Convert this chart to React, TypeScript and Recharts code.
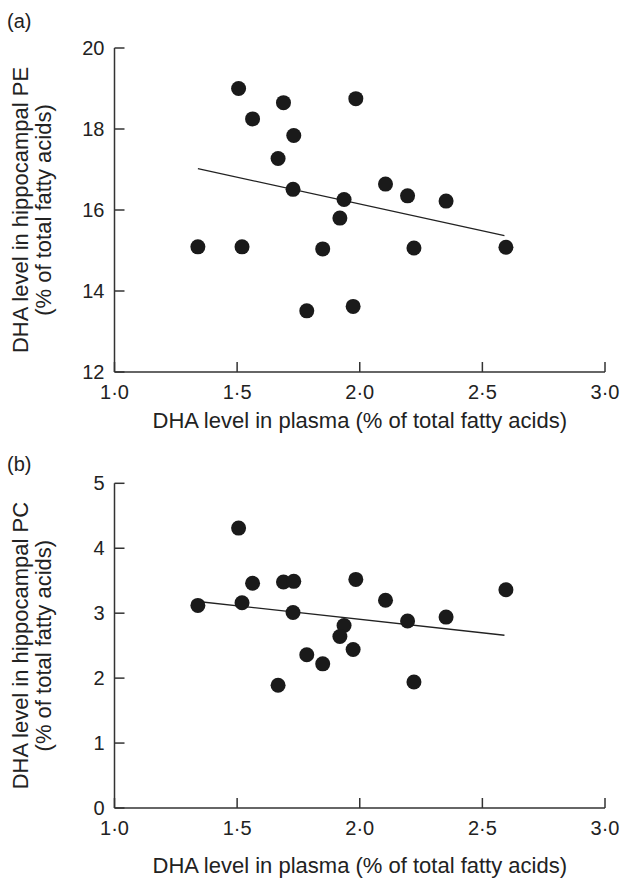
import React from 'react';
import { ScatterChart, Scatter, XAxis, YAxis } from 'recharts';

// Plasma DHA (% of total fatty acids), one value per animal
const plasmaDHA = [1.506, 1.689, 1.984, 1.563, 1.731, 1.667, 1.728, 2.105, 2.195, 2.352, 1.936, 1.919, 1.340, 1.520, 1.849, 2.221, 2.596, 1.784, 1.973];
// Hippocampal PE DHA (% of total fatty acids)
const hippocampalPE = [19.0, 18.65, 18.75, 18.25, 17.84, 17.27, 16.51, 16.64, 16.35, 16.22, 16.26, 15.80, 15.09, 15.09, 15.04, 15.06, 15.08, 13.51, 13.62];
// Hippocampal PC DHA (% of total fatty acids)
const hippocampalPC = [4.31, 3.48, 3.52, 3.46, 3.49, 1.89, 3.01, 3.20, 2.88, 2.94, 2.81, 2.64, 3.12, 3.16, 2.22, 1.94, 3.36, 2.36, 2.44];

// Regression line end points
const peFitX = [1.340, 2.590];
const peFitY = [17.02, 15.37];
const pcFitX = [1.340, 2.590];
const pcFitY = [3.18, 2.66];

const xTicks = [1.0, 1.5, 2.0, 2.5, 3.0];
const peTicks = [12, 14, 16, 18, 20];
const pcTicks = [0, 1, 2, 3, 4, 5];

const xTitle = 'DHA level in plasma (% of total fatty acids)';
const peTitle = ['DHA level in hippocampal PE', '(% of total fatty acids)'];
const pcTitle = ['DHA level in hippocampal PC', '(% of total fatty acids)'];

const FONT = '"Liberation Sans", Arial, Helvetica, sans-serif';
const AXIS = '#333';
const INK = '#222';

const peData = plasmaDHA.map((x, i) => ({ x, y: hippocampalPE[i] }));
const pcData = plasmaDHA.map((x, i) => ({ x, y: hippocampalPC[i] }));
const peFit = peFitX.map((x, i) => ({ x, y: peFitY[i] }));
const pcFit = pcFitX.map((x, i) => ({ x, y: pcFitY[i] }));

const fmtX = (v: number) => v.toFixed(1).replace('.', '\u00b7');

const XTick = (props: any) => {
  const { x, y, payload } = props;
  return (
    <g>
      <line x1={x} y1={y} x2={x} y2={y - 10} stroke={AXIS} strokeWidth={1.5} />
      <text x={x} y={y + 26.5} textAnchor="middle" fontSize={20} fill={INK} fontFamily={FONT}>
        {fmtX(payload.value)}
      </text>
    </g>
  );
};

const YTick = (props: any) => {
  const { x, y, payload } = props;
  return (
    <g>
      <line x1={x} y1={y} x2={x + 10} y2={y} stroke={AXIS} strokeWidth={1.5} />
      <text x={x - 10} y={y + 7} textAnchor="end" fontSize={20} fill={INK} fontFamily={FONT}>
        {payload.value}
      </text>
    </g>
  );
};

const Dot = (props: any) => {
  const { cx, cy } = props;
  if (cx == null || cy == null) return <g />;
  return <circle cx={cx} cy={cy} r={7.5} fill="#1a1a1a" />;
};

const NoDot = () => <g />;

type PanelProps = {
  data: { x: number; y: number }[];
  fit: { x: number; y: number }[];
  yDomain: [number, number];
  yTicks: number[];
  yTitle: string[];
  height: number;
  top: number;
  bottom: number;
  xTitleOffset: number;
};

const Panel = ({ data, fit, yDomain, yTicks, yTitle, height, top, bottom, xTitleOffset }: PanelProps) => {
  const xLabel = (p: any) => {
    const vb = p && p.viewBox ? p.viewBox : { x: 114.5, y: height - bottom - 30, width: 490.5, height: 30 };
    return (
      <text x={vb.x + vb.width / 2} y={vb.y + xTitleOffset} textAnchor="middle" fontSize={22} fill={INK} fontFamily={FONT}>
        {xTitle}
      </text>
    );
  };
  const yLabel = (p: any) => {
    const vb = p && p.viewBox ? p.viewBox : { x: 54.5, y: top, width: 60, height: height - top - bottom - 30 };
    const cy = vb.y + vb.height / 2;
    const x1 = 28;
    const x2 = 51;
    return (
      <g>
        <text x={x1} y={cy} transform={`rotate(-90, ${x1}, ${cy})`} textAnchor="middle" fontSize={22} fill={INK} fontFamily={FONT}>
          {yTitle[0]}
        </text>
        <text x={x2} y={cy} transform={`rotate(-90, ${x2}, ${cy})`} textAnchor="middle" fontSize={22} fill={INK} fontFamily={FONT}>
          {yTitle[1]}
        </text>
      </g>
    );
  };
  return (
    <ScatterChart width={622} height={height} margin={{ top, right: 17, bottom, left: 54.5 }}>
      <XAxis
        type="number"
        dataKey="x"
        domain={[1, 3]}
        ticks={xTicks}
        interval={0}
        height={30}
        tickSize={0}
        tickMargin={0}
        tickLine={false}
        axisLine={{ stroke: AXIS, strokeWidth: 1.5 }}
        tick={<XTick />}
        label={{ content: xLabel }}
      />
      <YAxis
        type="number"
        dataKey="y"
        domain={yDomain}
        ticks={yTicks}
        interval={0}
        width={60}
        tickSize={0}
        tickMargin={0}
        tickLine={false}
        axisLine={{ stroke: AXIS, strokeWidth: 1.5 }}
        tick={<YTick />}
        label={{ content: yLabel }}
      />
      <Scatter data={fit} shape={NoDot} line={{ stroke: '#222', strokeWidth: 1.3 }} isAnimationActive={false} />
      <Scatter data={data} shape={Dot} isAnimationActive={false} />
    </ScatterChart>
  );
};

export default function App() {
  return (
    <div style={{ position: 'absolute', left: 0, top: 0, width: 622, height: 878, background: '#fff', fontFamily: FONT }}>
      <div style={{ position: 'absolute', left: 0, top: 0 }}>
        <Panel data={peData} fit={peFit} yDomain={[12, 20]} yTicks={peTicks} yTitle={peTitle} height={440} top={48} bottom={38} xTitleOffset={55.5} />
      </div>
      <div style={{ position: 'absolute', left: 0, top: 440 }}>
        <Panel data={pcData} fit={pcFit} yDomain={[0, 5]} yTicks={pcTicks} yTitle={pcTitle} height={438} top={43.3} bottom={40} xTitleOffset={64.5} />
      </div>
      <div style={{ position: 'absolute', left: 7, top: 11, fontSize: 20, lineHeight: '20px', color: INK }}>(a)</div>
      <div style={{ position: 'absolute', left: 7, top: 454, fontSize: 20, lineHeight: '20px', color: INK }}>(b)</div>
    </div>
  );
}
